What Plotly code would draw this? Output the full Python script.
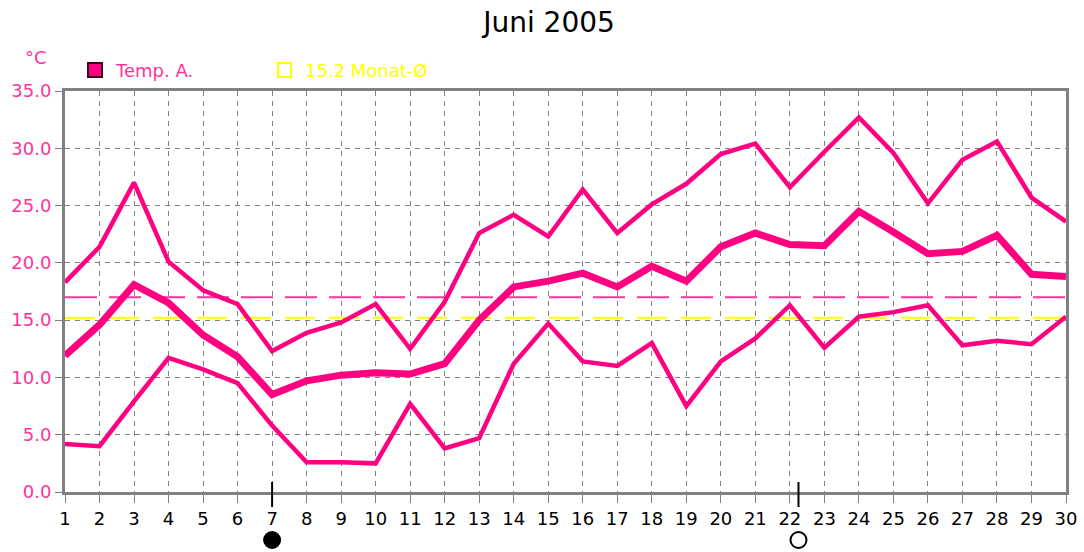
import plotly.graph_objects as go

# ---- data ----
DAYS = list(range(1, 31))
TEMP_MAX = [18.3, 21.4, 27.0, 20.1, 17.6, 16.4, 12.3, 13.9, 14.8, 16.4,
            12.5, 16.6, 22.6, 24.2, 22.3, 26.4, 22.6, 25.1, 26.9, 29.5,
            30.4, 26.6, 29.7, 32.7, 29.6, 25.2, 29.0, 30.6, 25.7, 23.6]
TEMP_AVG = [11.9, 14.6, 18.1, 16.5, 13.7, 11.8, 8.5, 9.7, 10.2, 10.4,
            10.3, 11.2, 15.0, 17.9, 18.4, 19.1, 17.9, 19.7, 18.4, 21.4,
            22.6, 21.6, 21.5, 24.5, 22.7, 20.8, 21.0, 22.4, 19.0, 18.8]
TEMP_MIN = [4.2, 4.0, 7.9, 11.7, 10.7, 9.5, 5.8, 2.6, 2.6, 2.5,
            7.7, 3.8, 4.7, 11.2, 14.7, 11.4, 11.0, 13.0, 7.5, 11.4,
            13.4, 16.3, 12.6, 15.3, 15.7, 16.3, 12.8, 13.2, 12.9, 15.3]
MONTH_MEAN = 17.0       # pink dashed line
LONGTERM_MEAN = 15.2    # yellow dashed line ("Monat-Ø")
MOON_DAYS = [7.0, 22.25]          # new moon, full moon
MOON_FILLED = [True, False]
Y_TICKS = [0, 5, 10, 15, 20, 25, 30, 35]

PINK = "#FF0080"
LIGHT_PINK = "#FF3399"
YELLOW = "#FFFF00"
GRAY = "#808080"
FONT = "DejaVu Sans, Liberation Sans, sans-serif"

fig = go.Figure()

# reference lines
fig.add_trace(go.Scatter(x=[DAYS[0], DAYS[-1]], y=[MONTH_MEAN, MONTH_MEAN], mode="lines",
                         line=dict(color=LIGHT_PINK, width=2, dash="32px,12px"),
                         showlegend=False, hoverinfo="skip"))
fig.add_trace(go.Scatter(x=[DAYS[0], DAYS[-1]], y=[LONGTERM_MEAN, LONGTERM_MEAN], mode="lines",
                         line=dict(color=YELLOW, width=2, dash="30px,14px"),
                         showlegend=False, hoverinfo="skip"))

for series, w in ((TEMP_MAX, 4.5), (TEMP_MIN, 4.5), (TEMP_AVG, 7)):
    fig.add_trace(go.Scatter(x=DAYS, y=series, mode="lines",
                             line=dict(color=PINK, width=w),
                             showlegend=False, name="Temp. A."))

# plot-area geometry in page pixels (used for the hand-made legend and moon symbols)
L, W, B, H = 65, 1001, 492, 401
def px(xp):
    return (xp - L) / W
def py(yp):
    return (B - yp) / H

# moon phase marks below the axis
DAY_PX = W / (DAYS[-1] - DAYS[0])
for d, filled in zip(MOON_DAYS, MOON_FILLED):
    fig.add_shape(type="line", xref="x", yref="paper", x0=d, x1=d, y0=py(482), y1=py(507),
                  line=dict(color="black", width=2))
    r = 8 / DAY_PX
    fig.add_shape(type="circle", xref="x", yref="paper", x0=d - r, x1=d + r,
                  y0=py(548), y1=py(532),
                  fillcolor="black" if filled else "white",
                  line=dict(color="black", width=2))

# manual legend
fig.add_shape(type="rect", xref="paper", yref="paper", x0=px(88), x1=px(102), y0=py(77), y1=py(63),
              fillcolor=PINK, line=dict(color="#400020", width=2))
fig.add_shape(type="rect", xref="paper", yref="paper", x0=px(278), x1=px(291), y0=py(77), y1=py(63),
              fillcolor="rgba(0,0,0,0)", line=dict(color=YELLOW, width=2))
fig.add_annotation(xref="paper", yref="paper", x=px(113), y=py(70), text="Temp. A.",
                   showarrow=False, xanchor="left", yanchor="middle",
                   font=dict(family=FONT, size=18, color=LIGHT_PINK))
fig.add_annotation(xref="paper", yref="paper", x=px(303), y=py(70), text="15.2 Monat-Ø",
                   showarrow=False, xanchor="left", yanchor="middle",
                   font=dict(family=FONT, size=18, color=YELLOW))
fig.add_annotation(xref="paper", yref="paper", x=px(36), y=py(58), text="°C",
                   showarrow=False, xanchor="center", yanchor="middle",
                   font=dict(family=FONT, size=18, color=LIGHT_PINK))

fig.update_layout(
    width=1084, height=552,
    margin=dict(l=65, r=18, t=91, b=60, autoexpand=False),
    paper_bgcolor="white", plot_bgcolor="white",
    title=dict(text="Juni 2005", x=549 / 1084, xanchor="center", y=1 - 22 / 552, yanchor="middle",
               font=dict(family=FONT, size=28, color="black")),
    showlegend=False,
    xaxis=dict(range=[1, 30], tickmode="array", tickvals=DAYS, ticktext=[str(d) for d in DAYS],
               showgrid=True, gridcolor=GRAY, gridwidth=1, griddash="5px,5px",
               showline=True, linecolor=GRAY, linewidth=3, mirror=True,
               ticks="outside", ticklen=8, tickcolor=GRAY, tickwidth=1, automargin=False,
               tickfont=dict(family=FONT, size=18, color="black"), zeroline=False, fixedrange=True),
    yaxis=dict(range=[0, 35], tickmode="array", tickvals=Y_TICKS,
               ticktext=[f"{v:.1f}" for v in Y_TICKS],
               showgrid=True, gridcolor=GRAY, gridwidth=1, griddash="5px,5px",
               showline=True, linecolor=GRAY, linewidth=3, mirror=True,
               ticks="outside", ticklen=7, tickcolor=GRAY, tickwidth=1, automargin=False,
               tickfont=dict(family=FONT, size=18, color=LIGHT_PINK), zeroline=False, fixedrange=True),
)

fig.write_html("out.html", config={"displayModeBar": False},
               post_script="document.body.style.margin='0';document.body.style.overflow='hidden';")
